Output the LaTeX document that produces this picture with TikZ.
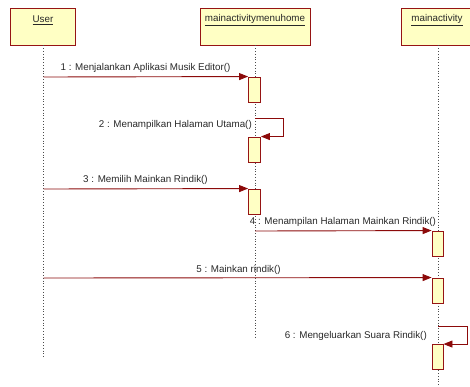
\documentclass[tikz,border=0pt]{standalone}
\usepackage{fontspec}
\setmainfont{Liberation Sans}
\usetikzlibrary{arrows.meta}
\definecolor{boxfill}{RGB}{255,255,196}
\definecolor{boxline}{RGB}{150,20,20}
\definecolor{msgline}{RGB}{140,10,10}
\definecolor{txt}{RGB}{40,40,40}
\tikzset{
  x=1pt, y=-1pt,
  every node/.style={font=\fontsize{9.8}{11}\selectfont, text=txt, inner sep=0pt},
  headbox/.style={draw=boxline, fill=boxfill, line width=0.9pt, minimum height=37pt, rectangle},
  headtitle/.style={anchor=center},
  lifeline/.style={draw=black!70, dotted, line width=0.8pt},
  actbox/.style={draw=boxline, fill=boxfill, line width=0.9pt, minimum width=12pt, minimum height=25pt, rectangle},
  msg/.style={draw=msgline, line width=0.9pt, -{Triangle[length=9pt,width=7pt]}},
  msglabel/.style={anchor=center},
}
\begin{document}
\begin{tikzpicture}
\useasboundingbox (0,0) rectangle (470,386);

% participant headers
\node[headbox, minimum width=65pt] (userbox) at (42.5,26.5) {};
\node[headbox, minimum width=110pt] (homebox) at (255,26.5) {};
\node[headbox, minimum width=69pt] (mainbox) at (435.5,26.5) {};
\node[headtitle] (usertitle) at (43,20) {\underline{User}};
\node[headtitle] (hometitle) at (255,20) {\underline{mainactivitymenuhome}};
\node[headtitle] (maintitle) at (437,20) {\underline{mainactivity}};

% lifelines
\coordinate (userend) at (43.5,359);
\coordinate (homeend) at (255,337);
\coordinate (mainend) at (438,386);
\path[lifeline] (userbox.south -| userend) -- (userend);
\path[lifeline] (homebox.south -| homeend) -- (homeend);
\path[lifeline] (mainbox.south -| mainend) -- (mainend);

% activation bars
\node[actbox] (a1) at (254.5,89.5) {};
\node[actbox] (a2) at (254.5,149.5) {};
\node[actbox] (a3) at (254.5,201.5) {};
\node[actbox, minimum width=11pt] (a4) at (437.5,243.5) {};
\node[actbox, minimum width=11pt] (a5) at (437.5,290.5) {};
\node[actbox, minimum width=11pt] (a6) at (437.5,357) {};

% message start points on the lifelines
\coordinate (m1s) at (43.5,77);
\coordinate (m2s) at (255,118);
\coordinate (m3s) at (43.5,189);
\coordinate (m4s) at (255,231);
\coordinate (m5s) at (43.5,278);
\coordinate (m6s) at (438,326);

% messages
\draw[msg] (m1s) -- (a1.north west);
\draw[msg] (m2s) -- ++(28,0) |- (a2.north east);
\draw[msg] (m3s) -- (a3.north west);
\draw[msg] (m4s) -- (a4.north west);
\draw[msg] (m5s) -- (a5.north west);
\draw[msg] (m6s) -- ++(29,0) |- (a6.north east);

% message labels
\node[msglabel] (l1) at (145.5,68) {1 : Menjalankan Aplikasi Musik Editor()};
\node[anchor=east] (l2) at (252,125) {2 : Menampilkan Halaman Utama()};
\node[msglabel] (l3) at (145.5,180) {3 : Memilih Mainkan Rindik()};
\node[msglabel] (l4) at (343,222) {4 : Menampilan Halaman Mainkan Rindik()};
\node[msglabel] (l5) at (238.5,270) {5 : Mainkan rindik()};
\node[anchor=east] (l6) at (427,336) {6 : Mengeluarkan Suara Rindik()};
\end{tikzpicture}
\end{document}
